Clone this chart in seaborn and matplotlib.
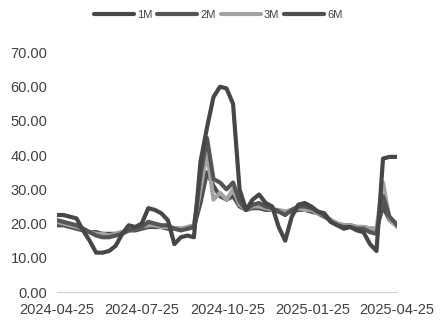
import pandas as pd
import numpy as np
import matplotlib
matplotlib.use("Agg")
import matplotlib.pyplot as plt
import seaborn as sns

sns.set_theme(style="white")
plt.rcParams['font.family'] = ['Liberation Sans', 'DejaVu Sans']

dates = list(pd.date_range("2024-04-25", periods=53, freq="7D")) + [pd.Timestamp("2025-04-25")]

vol_1m = [22.5, 22.5, 22.0, 21.5, 18.0, 15.0, 11.5, 11.5, 12.0, 13.5,
          17.0, 19.5, 19.0, 20.0, 24.5, 24.0, 23.0, 21.0, 14.0, 16.0,
          16.5, 16.0, 38.0, 48.0, 57.0, 60.0, 59.5, 55.0, 30.0, 24.0,
          27.0, 28.5, 26.0, 25.0, 19.0, 15.0, 22.0, 25.5, 26.0, 25.0,
          23.5, 23.0, 20.5, 19.5, 18.5, 19.0, 18.0, 17.5, 14.0, 12.0,
          39.0, 39.5, 39.5, 39.5]
vol_2m = [21.0, 20.5, 20.0, 19.5, 18.5, 17.5, 16.5, 16.0, 16.0, 16.5,
          17.0, 18.0, 18.5, 19.0, 20.5, 20.0, 19.5, 19.5, 18.5, 18.0,
          18.5, 19.0, 34.0, 45.0, 33.0, 32.0, 30.0, 32.0, 26.5, 24.0,
          25.5, 26.0, 25.0, 24.5, 23.5, 22.5, 24.0, 25.0, 25.0, 24.5,
          23.5, 22.5, 20.5, 19.5, 19.0, 19.0, 18.5, 18.5, 17.5, 17.0,
          28.0, 22.0, 20.0, 19.5]
vol_3m = [20.5, 20.0, 19.5, 19.0, 18.5, 17.5, 17.0, 17.0, 16.5, 17.0,
          17.5, 18.0, 18.5, 19.0, 19.5, 19.5, 19.0, 19.0, 18.5, 18.5,
          19.0, 19.5, 30.0, 41.0, 27.0, 29.0, 27.0, 30.0, 25.5, 24.0,
          25.0, 25.0, 24.5, 24.0, 24.0, 23.5, 24.0, 24.5, 24.0, 24.0,
          23.0, 22.5, 21.0, 20.0, 19.5, 19.5, 19.0, 19.0, 18.5, 18.5,
          32.0, 21.0, 19.5, 19.0]
vol_6m = [19.5, 19.5, 19.0, 18.5, 18.0, 17.5, 17.5, 17.0, 17.0, 17.0,
          17.5, 18.0, 18.0, 18.5, 19.0, 19.0, 19.0, 18.5, 18.5, 18.5,
          18.5, 19.0, 26.0, 35.0, 31.0, 28.0, 27.0, 28.0, 25.0, 24.0,
          24.5, 24.5, 24.0, 24.0, 23.5, 23.5, 23.5, 24.0, 24.0, 23.5,
          23.0, 22.0, 21.0, 20.0, 19.5, 19.5, 19.0, 19.0, 18.5, 18.5,
          25.0, 21.0, 19.5, 19.5]

series_names = ["1M", "2M", "3M", "6M"]
series_vals = [vol_1m, vol_2m, vol_3m, vol_6m]
colors = ["#474747", "#555555", "#a3a3a3", "#4e4e4e"]
zorders = [5, 4, 3, 2]
xtick_labels = ["2024-04-25", "2024-07-25", "2024-10-25", "2025-01-25", "2025-04-25"]
yticks = [0, 10, 20, 30, 40, 50, 60, 70]

fig = plt.figure(figsize=(4.41, 3.25), dpi=100)
ax = fig.add_axes([57/441, 1 - 292/325, 340/441, (292 - 52.5)/325])

for name, vals, c, z in zip(series_names, series_vals, colors, zorders):
    df = pd.DataFrame({"date": dates, "v": vals})
    sns.lineplot(data=df, x="date", y="v", ax=ax, color=c, lw=3.0,
                 label=name, zorder=z)

ax.set_ylim(0, 70)
ax.set_xlim(pd.Timestamp("2024-04-25"), pd.Timestamp("2025-04-25"))
ax.set_yticks(yticks)
ax.set_yticklabels([f"{v:.2f}" for v in yticks])
ax.set_xticks([pd.Timestamp(d) for d in xtick_labels])
ax.set_xticklabels(xtick_labels)
ax.set_xlabel("")
ax.set_ylabel("")
for s in ["top", "right", "left"]:
    ax.spines[s].set_visible(False)
ax.spines["bottom"].set_color("#d0d0d0")
ax.spines["bottom"].set_linewidth(0.8)
ax.tick_params(axis="x", direction="in", length=4, color="#d0d0d0", width=0.8,
               labelsize=10.5, labelcolor="#404040", pad=8)
ax.tick_params(axis="y", length=0, labelsize=10.5, labelcolor="#404040", pad=7)
ax.get_legend().remove()

handles, labels = ax.get_legend_handles_labels()
fig.legend(handles, labels, loc="center", bbox_to_anchor=(0.495, 0.955), ncol=4,
           frameon=False, fontsize=8, handlelength=3.6, handletextpad=0.3,
           columnspacing=0.4, labelcolor="#404040")

fig.savefig("out.png", dpi=100)
